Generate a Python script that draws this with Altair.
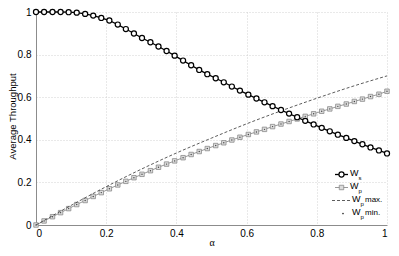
import altair as alt
import pandas as pd

# ---- data ----
alpha = [0.000, 0.023, 0.047, 0.070, 0.093, 0.116, 0.140, 0.163, 0.186, 0.209,
         0.233, 0.256, 0.279, 0.302, 0.326, 0.349, 0.372, 0.395, 0.419, 0.442,
         0.465, 0.488, 0.512, 0.535, 0.558, 0.581, 0.605, 0.628, 0.651, 0.674,
         0.698, 0.721, 0.744, 0.767, 0.791, 0.814, 0.837, 0.860, 0.884, 0.907,
         0.930, 0.953, 0.977, 1.000]
ws = [1.000, 1.000, 1.000, 1.000, 0.999, 0.997, 0.991, 0.983, 0.972, 0.960,
      0.941, 0.920, 0.899, 0.878, 0.858, 0.838, 0.817, 0.795, 0.772, 0.750,
      0.728, 0.708, 0.689, 0.670, 0.650, 0.631, 0.612, 0.594, 0.576, 0.558,
      0.540, 0.523, 0.506, 0.489, 0.472, 0.456, 0.440, 0.424, 0.409, 0.394,
      0.379, 0.364, 0.350, 0.336]
wp = [0.000, 0.019, 0.039, 0.058, 0.077, 0.096, 0.115, 0.134, 0.152, 0.170,
      0.188, 0.205, 0.222, 0.238, 0.255, 0.271, 0.286, 0.301, 0.316, 0.331,
      0.345, 0.359, 0.373, 0.386, 0.399, 0.412, 0.425, 0.437, 0.449, 0.462,
      0.474, 0.486, 0.498, 0.510, 0.522, 0.534, 0.545, 0.557, 0.568, 0.580,
      0.591, 0.603, 0.614, 0.628]
wp_min = list(wp)  # the "min" markers sit on the Wp curve
alpha_max = [0.0, 0.1, 0.2, 0.3, 0.4, 0.5, 0.6, 0.7, 0.8, 0.9, 1.0]
wp_max = [0.000, 0.092, 0.180, 0.262, 0.338, 0.408, 0.475, 0.537, 0.595, 0.650, 0.700]
ticks = [0, 0.2, 0.4, 0.6, 0.8, 1]

FONT = "Liberation Sans"

df = pd.DataFrame({"alpha": alpha, "ws": ws, "wp": wp, "wp_min": wp_min})
long = df.melt(id_vars="alpha", value_vars=["ws", "wp", "wp_min"],
               var_name="series", value_name="value")
long = pd.concat([long, pd.DataFrame({"alpha": alpha_max, "series": "wp_max",
                                      "value": wp_max})], ignore_index=True)

xaxis = alt.Axis(values=ticks, format=".1~f", title="α", titleFont="Liberation Serif",
                 titleFontSize=10, titleFontWeight="normal", titleY=17,
                 titleBaseline="middle", labelPadding=3)
yaxis = alt.Axis(values=ticks, format=".1~f", title="Average Throughput",
                 titleFontSize=9.5, titleFontWeight="normal", titleX=-24, titleY=104,
                 titleBaseline="middle", titleAngle=-90, labelPadding=5)

X = alt.X("alpha:Q", scale=alt.Scale(domain=[0, 1], nice=False), axis=xaxis)
Y = alt.Y("value:Q", scale=alt.Scale(domain=[0, 1], nice=False), axis=yaxis)

base = alt.Chart(long).encode(x=X, y=Y)

def sel(name):
    return base.transform_filter(alt.datum.series == name)

wp_line = sel("wp").mark_line(color="#999999", strokeWidth=1)
wp_pts = sel("wp").mark_point(shape="square", filled=True, fill="#dcdcdc",
                              stroke="#8a8a8a", strokeWidth=0.8, size=20, opacity=1)
wp_min_pts = sel("wp_min").mark_point(shape="circle", filled=True, color="#444444",
                                      size=2, opacity=1)
wp_max_line = sel("wp_max").mark_line(color="#333333", strokeWidth=0.8,
                                      strokeDash=[3, 2], interpolate="monotone")
ws_line = sel("ws").mark_line(color="black", strokeWidth=1.3)
ws_pts = sel("ws").mark_point(shape="circle", filled=True, fill="white",
                              stroke="black", strokeWidth=1.2, size=26, opacity=1)

# ---- manual legend (pixel layout inside the plot area) ----
one = pd.DataFrame({"k": [0]})
leg = []
rows = [  # (row y, symbol kind, text x, [subscript, suffix])
    (161, "ws", 314, ["s", ""]),
    (174, "wp", 314, ["p", ""]),
    (187, "max", 316, ["p", "max."]),
    (200, "min", 316, ["p", "min."]),
]
for ry, kind, tx, (sub, suf) in rows:
    sy = ry + 1.5
    if kind == "ws":
        leg.append(alt.Chart(one).mark_rule(color="black", strokeWidth=1.3).encode(
            x=alt.value(299), x2=alt.value(312), y=alt.value(sy)))
        leg.append(alt.Chart(one).mark_point(shape="circle", filled=True, fill="white",
                   stroke="black", strokeWidth=1.2, size=26, opacity=1).encode(
            x=alt.value(305.5), y=alt.value(sy)))
    elif kind == "wp":
        leg.append(alt.Chart(one).mark_rule(color="#999999", strokeWidth=1).encode(
            x=alt.value(299), x2=alt.value(312), y=alt.value(sy)))
        leg.append(alt.Chart(one).mark_point(shape="square", filled=True, fill="#dcdcdc",
                   stroke="#8a8a8a", strokeWidth=0.8, size=20, opacity=1).encode(
            x=alt.value(305.5), y=alt.value(sy)))
    elif kind == "max":
        leg.append(alt.Chart(one).mark_rule(color="#333333", strokeWidth=0.8,
                   strokeDash=[3, 2]).encode(
            x=alt.value(296), x2=alt.value(314), y=alt.value(sy)))
    else:
        leg.append(alt.Chart(one).mark_point(shape="circle", filled=True,
                   color="#333333", size=3, opacity=1).encode(
            x=alt.value(307), y=alt.value(sy)))
    leg.append(alt.Chart(one).mark_text(align="left", baseline="middle", font=FONT,
               fontSize=9, color="black").encode(
        x=alt.value(tx), y=alt.value(ry), text=alt.value("W")))
    leg.append(alt.Chart(one).mark_text(align="left", baseline="middle", font=FONT,
               fontSize=6, color="black").encode(
        x=alt.value(tx + 8.5), y=alt.value(ry + 4.5), text=alt.value(sub)))
    if suf:
        leg.append(alt.Chart(one).mark_text(align="left", baseline="middle", font=FONT,
                   fontSize=8, color="black").encode(
            x=alt.value(tx + 13), y=alt.value(ry + 1), text=alt.value(suf)))

chart = alt.layer(wp_line, wp_pts, wp_min_pts, wp_max_line, ws_line, ws_pts, *leg).properties(
    width=351, height=213,
    autosize=alt.AutoSizeParams(type="none"),
    padding={"left": 28, "top": 4, "right": 4, "bottom": 23},
    background="white",
).configure_view(stroke=None).configure_axis(
    grid=True, gridColor="#c8c8c8", gridDash=[1, 2], gridWidth=0.8,
    domainColor="#8c8c8c", domainWidth=1, ticks=False,
    labelFont=FONT, labelFontSize=10, labelColor="black",
    titleFont=FONT, titleColor="black",
)

chart.save("out.html", embed_options={"renderer": "svg", "actions": False})
